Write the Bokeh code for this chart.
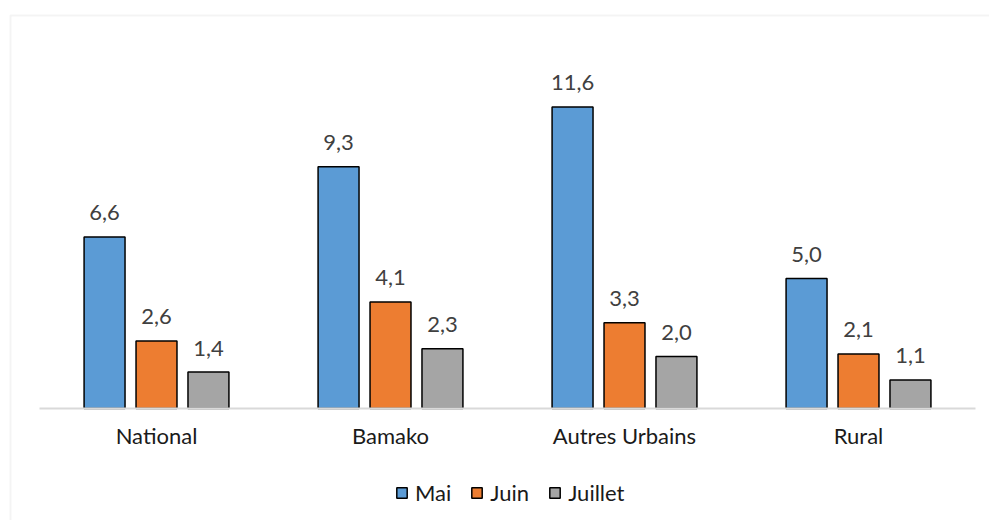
from bokeh.plotting import figure
from bokeh.models import (ColumnDataSource, Range1d, LabelSet, Legend, LegendItem,
                          BoxAnnotation, LinearAxis, FixedTicker)
from bokeh.transform import dodge
from bokeh.core.properties import value
from bokeh.embed import file_html
from bokeh.resources import INLINE

categories = ["National", "Bamako", "Autres Urbains", "Rural"]
series_names = ["Mai", "Juin", "Juillet"]
mai = [6.6, 9.3, 11.6, 5.0]
juin = [2.6, 4.1, 3.3, 2.1]
juillet = [1.4, 2.3, 2.0, 1.1]

colors = ["#5B9BD5", "#ED7D31", "#A5A5A5"]
offsets = [-0.222, 0.0, 0.222]
FONT = "Lato"

def fmt(v):
    return f"{v:.1f}".replace(".", ",")

centers = [i + 0.5 for i in range(len(categories))]

p = figure(width=989, height=520, x_axis_type=None, y_axis_type=None,
           x_range=Range1d(-0.1667, 4.0598), y_range=Range1d(-4.3077, 15.692),
           output_backend="svg", toolbar_location=None,
           min_border=0, min_border_left=0, min_border_right=0,
           min_border_top=0, min_border_bottom=0)
p.outline_line_color = None
p.background_fill_color = "white"
p.border_fill_color = "white"
p.xgrid.visible = False
p.ygrid.visible = False

items = []
for name, vals, col, off in zip(series_names, [mai, juin, juillet], colors, offsets):
    src = ColumnDataSource(dict(xc=centers, val=vals, lab=[fmt(v) for v in vals]))
    r = p.vbar(x=dodge("xc", off), top="val", bottom=0, width=0.175,
               source=src, fill_color=col, line_color="black", line_width=1.5)
    lbl = LabelSet(x=dodge("xc", off), y="val", text="lab", source=src,
                   text_align="center", text_baseline="middle", y_offset=24,
                   text_font=value(FONT), text_font_size="22px", text_color="#404040")
    p.add_layout(lbl)
    items.append(LegendItem(label=name, renderers=[r]))

ax = LinearAxis(ticker=FixedTicker(ticks=centers),
                major_label_overrides={c: n for c, n in zip(centers, categories)},
                fixed_location=0, bounds=(0, len(categories)))
ax.axis_line_color = "#d9d9d9"
ax.axis_line_width = 2
ax.major_tick_line_color = None
ax.minor_tick_line_color = None
ax.major_tick_out = 0
ax.major_tick_in = 0
ax.major_label_standoff = 14
ax.major_label_text_font = FONT
ax.major_label_text_font_size = "22px"
ax.major_label_text_color = "#1a1a1a"
p.add_layout(ax, "below")

legend = Legend(items=items, orientation="horizontal", location=(395, 14),
                glyph_width=13, glyph_height=13, label_standoff=7, spacing=19,
                label_height=20,
                label_text_font=FONT, label_text_font_size="22px",
                label_text_color="#1a1a1a", border_line_color=None,
                background_fill_alpha=0, padding=0, margin=0)
p.add_layout(legend)

frame_box = BoxAnnotation(left=10, right=5000, top=15, bottom=5000,
                          left_units="canvas", right_units="canvas",
                          top_units="canvas", bottom_units="canvas",
                          fill_alpha=0, line_color="#d9d9d9", line_width=2)
p.add_layout(frame_box)

open("out.html", "w").write(file_html(p, INLINE))
